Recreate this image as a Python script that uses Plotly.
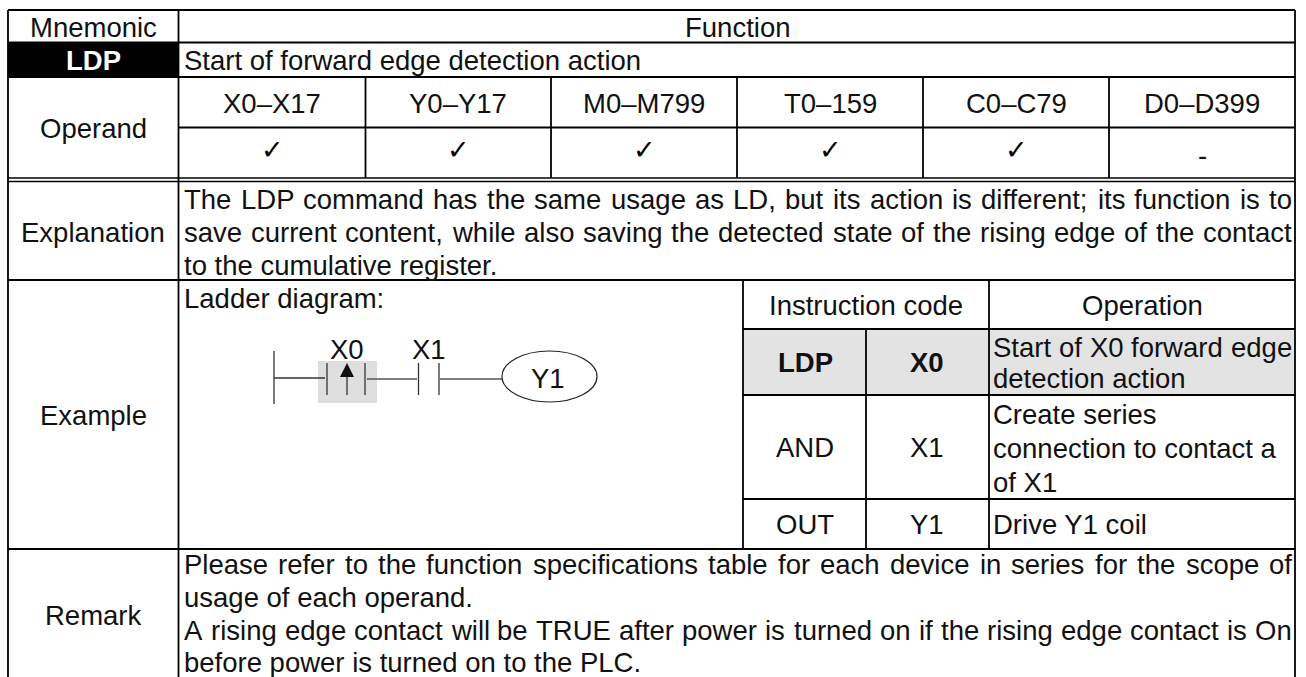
import plotly.graph_objects as go

W, H = 1306, 677
FONT = "Liberation Sans"
SIZE = 27.5

# ---- table content ----
header = ["Mnemonic", "Function"]
mnemonic = "LDP"
summary = "Start of forward edge detection action"
row_labels = ["Operand", "Explanation", "Example", "Remark"]
operands = ["X0–X17", "Y0–Y17", "M0–M799", "T0–159", "C0–C79", "D0–D399"]
operand_marks = ["✓", "✓", "✓", "✓", "✓", "-"]
explanation = [
    "The LDP command has the same usage as LD, but its action is different; its function is to",
    "save current content, while also saving the detected state of the rising edge of the contact",
    "to the cumulative register.",
]
ladder_title = "Ladder diagram:"
ladder_labels = ["X0", "X1", "Y1"]
code_header = ["Instruction code", "Operation"]
code_ops = ["LDP", "AND", "OUT"]
code_args = ["X0", "X1", "Y1"]
code_desc = [
    ["Start of X0 forward edge", "detection action"],
    ["Create series", "connection to contact a", "of X1"],
    ["Drive Y1 coil"],
]
remark = [
    "Please refer to the function specifications table for each device in series for the scope of",
    "usage of each operand.",
    "A rising edge contact will be TRUE after power is turned on if the rising edge contact is On",
    "before power is turned on to the PLC.",
]

# ---- grid geometry ----
col_x = [8, 178.5, 365.5, 551, 737, 923, 1109, 1295]
row_y = dict(top=10, head=42.5, ldp=77, op1=127.5, op2=178, dbl=181.5, expl=280,
             code0=329, code1=395, code2=499, code3=549)
sub_x = [743, 866, 989]

# Arial / Liberation Sans advance widths (per 1000 em)
AW = {' ':278,',':278,'.':278,';':278,':':278,'-':333,'0':556,'1':556,
      'A':667,'C':722,'D':722,'E':667,'L':556,'O':778,'P':667,'R':722,'S':667,'T':611,'U':722,'X':667,'Y':667,
      'a':556,'b':556,'c':500,'d':556,'e':556,'f':278,'g':556,'h':556,'i':222,'j':222,'k':500,'l':222,'m':833,
      'n':556,'o':556,'p':556,'q':556,'r':333,'s':500,'t':278,'u':556,'v':500,'w':722,'x':500,'y':500,'z':500}

def tw(s, size=SIZE):
    return sum(AW.get(c, 556) for c in s) * size / 1000

annotations = []

def txt(s, x, y, anchor="center", bold=False, color="#111111", size=SIZE, font=FONT):
    label = f"<b>{s}</b>" if bold else s
    annotations.append(dict(text=label, x=x, y=y, xref="x", yref="y", showarrow=False,
                            xanchor=anchor, yanchor="middle", borderpad=0, borderwidth=0,
                            font=dict(family=font, size=size, color=color)))

def justified(line, left, right, y):
    words = line.split(" ")
    gap = (right - left - sum(tw(w) for w in words)) / (len(words) - 1)
    x = left
    for w in words:
        txt(w, x, y, anchor="left")
        x += tw(w) + gap

shapes = []

def rect(x0, y0, x1, y1, fill):
    shapes.append(dict(type="rect", xref="x", yref="y", x0=x0, y0=y0, x1=x1, y1=y1,
                       fillcolor=fill, line=dict(width=0), layer="below"))

def seg(x0, y0, x1, y1, w=1.8, c="#000000"):
    shapes.append(dict(type="line", xref="x", yref="y", x0=x0, y0=y0, x1=x1, y1=y1,
                       line=dict(color=c, width=w), layer="above"))

# fills
rect(col_x[0], row_y["head"], col_x[1], row_y["ldp"], "#000000")
rect(sub_x[0], row_y["code0"], 1295, row_y["code1"], "#E3E3E3")
rect(318, 361, 377, 403, "#DEDEDE")

# horizontal rules
for key in ("top", "head", "ldp"):
    seg(col_x[0], row_y[key], col_x[-1], row_y[key])
seg(col_x[1], row_y["op1"], col_x[-1], row_y["op1"])
seg(col_x[0], row_y["op2"], col_x[-1], row_y["op2"], w=1.5)
seg(col_x[0], row_y["dbl"], col_x[-1], row_y["dbl"], w=1.5)
seg(col_x[0], row_y["expl"], col_x[-1], row_y["expl"])
seg(sub_x[0], row_y["code0"], col_x[-1], row_y["code0"])
seg(sub_x[0], row_y["code1"], col_x[-1], row_y["code1"])
seg(sub_x[0], row_y["code2"], col_x[-1], row_y["code2"])
seg(col_x[0], row_y["code3"], col_x[-1], row_y["code3"])

# vertical rules
seg(col_x[0], row_y["top"], col_x[0], H)
seg(col_x[1], row_y["top"], col_x[1], H)
seg(col_x[-1], row_y["top"], col_x[-1], H)
for x in col_x[2:-1]:
    seg(x, row_y["ldp"], x, row_y["op2"])
seg(sub_x[0], row_y["expl"], sub_x[0], row_y["code3"])
seg(sub_x[1], row_y["code0"], sub_x[1], row_y["code3"])
seg(sub_x[2], row_y["expl"], sub_x[2], row_y["code3"])

# ladder diagram
wire = dict(w=1.3, c="#333333")
seg(274, 351, 274, 404, **wire)
seg(274, 378, 325, 378, **wire)
seg(327, 363, 327, 395, **wire)
seg(365, 363, 365, 395, **wire)
seg(347, 376, 347, 395, **wire)
seg(367, 379, 417, 379, w=1.4, c="#555555")
seg(418.5, 363, 418.5, 395, **wire)
seg(439, 363, 439, 395, **wire)
seg(440, 379, 502, 379, w=1.4, c="#555555")
shapes.append(dict(type="path", xref="x", yref="y", path="M 340 377 L 354 377 L 347 363 Z",
                   fillcolor="#111111", line=dict(width=0)))
shapes.append(dict(type="circle", xref="x", yref="y", x0=502, y0=351, x1=597, y1=402,
                   line=dict(color="#222222", width=1.2)))

# text
centers = [(col_x[i] + col_x[i + 1]) / 2 for i in range(1, 7)]
txt(header[0], 93, 27)
txt(header[1], 737, 27)
txt(mnemonic, 93, 60, bold=True, color="#FFFFFF")
txt(summary, 184, 60, anchor="left")
txt(row_labels[0], 93, 128)
for cx, label, mark in zip(centers, operands, operand_marks):
    txt(label, cx, 103)
    if mark == "-":
        txt(mark, cx, 155)
    else:
        txt(mark, cx, 149, size=27, font="DejaVu Sans", color="#000000")
txt(row_labels[1], 93, 232)
justified(explanation[0], 184, 1292, 199)
justified(explanation[1], 184, 1292, 232)
txt(explanation[2], 184, 265, anchor="left")
txt(row_labels[2], 93, 415)
txt(ladder_title, 184, 298, anchor="left")
txt(ladder_labels[0], 347, 349)
txt(ladder_labels[1], 429, 349)
txt(ladder_labels[2], 548, 378)
txt(code_header[0], 866, 305)
txt(code_header[1], 1142, 305)
op_y = [362, 447, 524]
for i, (op, arg) in enumerate(zip(code_ops, code_args)):
    txt(op, 805, op_y[i], bold=(i == 0))
    txt(arg, 927, op_y[i], bold=(i == 0))
justified(code_desc[0][0], 993, 1292, 347)
txt(code_desc[0][1], 993, 378, anchor="left")
txt(code_desc[1][0], 993, 414, anchor="left")
txt(code_desc[1][1], 993, 448, anchor="left")
txt(code_desc[1][2], 993, 482, anchor="left")
txt(code_desc[2][0], 993, 524, anchor="left")
txt(row_labels[3], 93, 615)
justified(remark[0], 184, 1292, 564)
txt(remark[1], 184, 597, anchor="left")
justified(remark[2], 184, 1292, 630)
txt(remark[3], 184, 662, anchor="left")

fig = go.Figure()
fig.add_trace(go.Scatter(x=[0, W], y=[0, H], mode="markers", marker=dict(opacity=0), hoverinfo="skip"))
fig.update_layout(
    width=W, height=H, margin=dict(l=0, r=0, t=0, b=0), showlegend=False,
    paper_bgcolor="white", plot_bgcolor="white", shapes=shapes, annotations=annotations,
    xaxis=dict(range=[0, W], visible=False, fixedrange=True),
    yaxis=dict(range=[H, 0], visible=False, fixedrange=True),
)
fig.write_html("out.html", config=dict(displayModeBar=False),
               post_script="document.body.style.margin='0';document.documentElement.style.overflow='hidden';")
